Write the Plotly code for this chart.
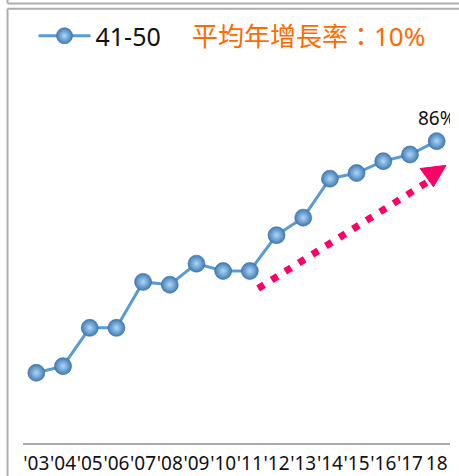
import plotly.graph_objects as go

years = list(range(2003, 2019))
tick_labels = ["'03", "'04", "'05", "'06", "'07", "'08", "'09", "'10", "'11",
               "'12", "'13", "'14", "'15", "'16", "'17", "18"]
values = [20.0, 21.9, 32.8, 32.8, 45.9, 45.1, 51.1, 49.0, 49.0,
          59.2, 64.2, 75.3, 76.9, 80.3, 82.2, 86.0]
series_name = "41-50"
headline = "平均年增長率：10%"

labels = [""] * (len(values) - 1) + [f"{values[-1]:.0f}%"]

font_family = "Noto Sans, Noto Sans CJK TC, sans-serif"

W, H = 459, 476
T, B = 92, 33


def cy(px):
    """pixel row -> container y"""
    return 1 - px / H


def cx(px):
    return px / W


fig = go.Figure()
fig.add_trace(go.Scatter(
    x=years, y=values, name=series_name,
    mode="lines+markers+text",
    text=labels, textposition="top center",
    textfont=dict(size=19, color="#111111"),
    line=dict(color="#5B9BD5", width=3),
    marker=dict(size=17, color="#3F7CB8",
                gradient=dict(type="radial", color="#B0D7F4"),
                line=dict(color="#3A6A9A", width=0.6)),
))

# decorative trend arrow (dotted) in data space
fig.add_shape(type="line", xref="x", yref="y",
              x0=2011.31, y0=44.0, x1=2017.75, y1=74.8,
              line=dict(color="#FF0066", width=7, dash="7px,9px"))
fig.add_shape(type="path", xref="x", yref="y",
              path="M2018.35,79.1 L2017.38,78.2 L2017.88,73.0 Z",
              fillcolor="#FF0066", line=dict(color="#FF0066", width=1))

# frame lines (paper space, converted from pixels)
PW, PH = W - 23 - 9, H - T - B


def px2paper_x(px):
    return (px - 23) / PW


def px2paper_y(py):
    return 1 + (T - py) / PH


gray = "#ADADAD"
xl = px2paper_x(7.5)
for y_top, y_bot in [(3.5, -10), (8.7, 500)]:
    fig.add_shape(type="line", xref="paper", yref="paper",
                  x0=xl, x1=px2paper_x(470), y0=px2paper_y(y_top), y1=px2paper_y(y_top),
                  line=dict(color=gray, width=2))
    fig.add_shape(type="line", xref="paper", yref="paper",
                  x0=xl, x1=xl, y0=px2paper_y(y_top), y1=px2paper_y(y_bot),
                  line=dict(color=gray, width=2))

fig.add_annotation(text=headline, xref="paper", yref="paper",
                   x=px2paper_x(190), y=px2paper_y(36), xanchor="left", yanchor="middle",
                   showarrow=False,
                   font=dict(size=26, color="#FF6A00", family=font_family))

fig.update_layout(
    width=W, height=H,
    margin=dict(l=23, r=9, t=T, b=B, autoexpand=False),
    paper_bgcolor="white", plot_bgcolor="white",
    font=dict(family=font_family, color="#111111"),
    showlegend=True,
    legend=dict(orientation="h", xref="container", yref="container",
                x=cx(33.5), y=cy(36), xanchor="left", yanchor="middle",
                font=dict(size=25, color="#111111"), itemwidth=52,
                bgcolor="rgba(0,0,0,0)"),
    xaxis=dict(range=[2002.5, 2018.5], tickvals=years, ticktext=tick_labels,
               tickangle=0, showgrid=False, zeroline=False, automargin=False,
               showline=True, linecolor="#AAAAAA", linewidth=2,
               ticks="", ticklabelstandoff=2,
               tickfont=dict(size=19, color="#111111")),
    yaxis=dict(range=[0, 100], showticklabels=False, showgrid=False,
               zeroline=False, showline=False, automargin=False),
)

fig.write_html("out.html", config={"displayModeBar": False},
               post_script="document.body.style.margin='0';")
